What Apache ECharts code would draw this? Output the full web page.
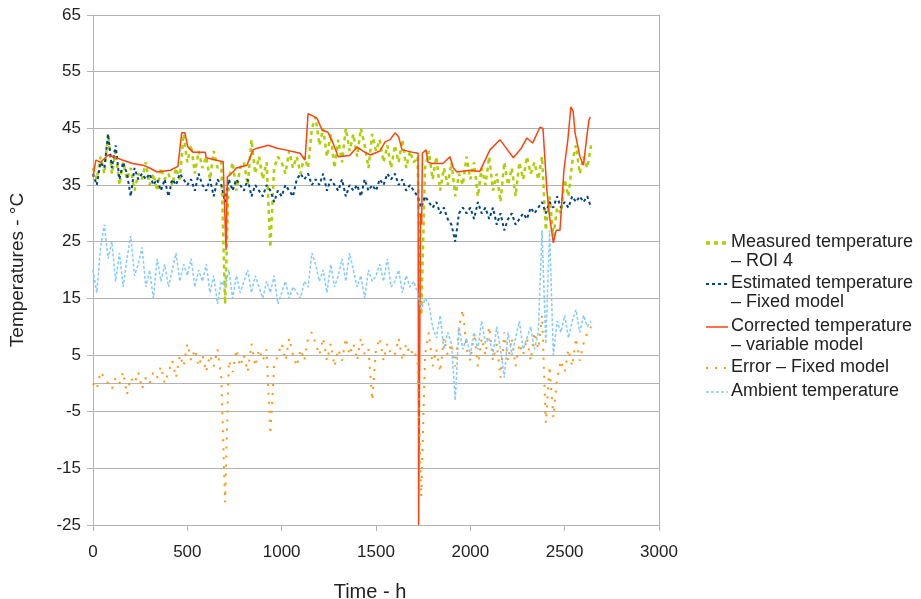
<!DOCTYPE html>
<html>
<head>
<meta charset="utf-8">
<script src="https://cdn.jsdelivr.net/npm/echarts@6/dist/echarts.min.js"></script>
<style>
  html, body { margin: 0; padding: 0; background: #ffffff; }
  #chart { width: 921px; height: 599px; }
</style>
</head>
<body>
<div id="chart"></div>
<script>
// Sampling instants (h) shared by the measured, estimated, error and ambient series
const hours = [];
for (let h = 0; h <= 2640; h += 20) hours.push(h);

// Measured temperature – ROI 4 (°C)
const measured = [
  38, 36, 40, 37, 44,   37, 41, 35, 39, 36,   38, 34, 37, 36, 39,   35, 37, 34, 38, 36,
  37, 35, 38, 36, 44,   39, 42, 37, 41, 38,   40, 36, 41, 38, 39,   14, 36, 39, 34, 38,
  39, 35, 43, 37, 40,   36, 39, 24, 38, 40,   39, 37, 41, 38, 40,   37, 40, 38, 45, 47,
  42, 45, 40, 44, 38,   43, 39, 45, 41, 44,   40, 45, 42, 38, 44,   41, 43, 39, 42, 38,
  42, 39, 43, 38, 41,   39, 40, 12, 38, 41,   36, 40, 34, 38, 35,   39, 33, 37, 35, 40,
  36, 39, 33, 38, 35,   40, 34, 37, 32, 39,   35, 38, 33, 39, 36,   40, 37, 39, 36, 40,
  27, 33, 26, 31, 30,   36, 33, 39, 42, 37,   40, 38, 42
];

// Estimated temperature – Fixed model (°C)
const estimated = [
  37, 35, 39, 38, 44,   38, 42, 36, 39, 37,   33, 38, 36, 37, 36,   37, 35, 36, 34, 36,
  33, 36, 35, 37, 36,   35, 36, 34, 37, 35,   34, 36, 33, 36, 35,   32, 36, 34, 36, 35,
  34, 36, 33, 35, 34,   33, 35, 34, 32, 34,   33, 35, 34, 33, 36,   37, 36, 37, 35, 36,
  35, 37, 34, 36, 35,   34, 36, 33, 35, 34,   35, 33, 36, 34, 35,   34, 36, 35, 37, 36,
  37, 35, 36, 34, 35,   34, 33, 31, 33, 32,   31, 32, 30, 31, 29,   28, 25, 30, 31, 30,
  31, 29, 32, 30, 31,   29, 31, 28, 30, 27,   29, 30, 28, 29, 30,   29, 31, 30, 31, 32,
  30, 32, 31, 33, 31,   32, 31, 33, 32, 33,   32, 33, 31
];

// Error – Fixed model (°C)
const errorFixed = [
   0, -1,  2,  1,  0,   -1,  1,  0,  2, -2,    1,  0,  2, -1,  1,    0,  2,  1,  3,  0,
   2,  4,  1,  5,  3,    7,  4,  6,  3,  5,    2,  5,  3,  6,  1,  -21,  4,  2,  6,  3,
   5,  2,  7,  3,  6,    4,  6, -9,  3,  5,    7,  4,  8,  5,  3,    6,  4,  8,  9,  7,
   5,  8,  4,  7,  3,    6,  4,  8,  5,  7,    4,  8,  5,  6, -3,    6,  8,  4,  7,  5,
   5,  8,  4,  7,  5,    6,  4, -20, 5,  9,    3,  6,  2,  8,  5,    7,  3, 10, 13,  6,
   4,  9,  3,  8,  5,   10,  4,  7,  1,  9,    4,  8,  3,  7,  5,    8,  4,  9,  6, 12,
  -7,  3, -6,  1,  4,    2,  6,  3,  8,  4,    7,  9, 10
];

// Ambient temperature (°C)
const ambient = [
  20, 16, 24, 28, 22,   25, 18, 23, 17, 22,   26, 19, 21, 24, 17,   20, 15, 22, 18, 21,
  17, 20, 23, 18, 21,   19, 22, 17, 20, 18,   21, 16, 19, 14, 18,   17, 20, 15, 19, 16,
  18, 20, 16, 19, 17,   15, 18, 16, 19, 14,   16, 18, 15, 17, 16,   15, 18, 17, 23, 21,
  18, 20, 16, 21, 17,   19, 22, 18, 23, 20,   17, 19, 15, 20, 18,   19, 21, 18, 22, 17,
  18, 20, 16, 19, 17,   18, 16, 13, 15, 14,   10,  8, 12,  6,  9,    7, -3, 10,  6,  8,
   5,  9,  6, 11,  7,    8,  5, 10,  6,  1,    9,  5,  8, 11,  6,    8, 10,  6,  9, 27,
   7, 27,  5, 11,  9,   12,  8, 11, 13,  9,   12, 10, 11
];

// Corrected temperature – variable model: own time base (h) and values (°C)
const corrHours = [
  0, 15, 40, 80, 110, 155, 210, 265, 300, 340, 410, 450, 470, 487, 503, 530, 595, 600,
  690, 700, 705, 712, 742, 760, 816, 848, 870, 930, 975, 1020, 1097, 1124, 1140, 1187,
  1214, 1245, 1272, 1300, 1360, 1400, 1440, 1470, 1521, 1548, 1575, 1601, 1620, 1638,
  1691, 1723, 1726, 1732, 1736, 1742, 1746, 1765, 1776, 1797, 1855, 1892, 1910, 1929,
  2000, 2050, 2104, 2157, 2190, 2228, 2270, 2300, 2330, 2369, 2385, 2406, 2420, 2440,
  2455, 2475, 2496, 2517, 2533, 2545, 2555, 2581, 2600, 2617, 2629, 2636
];
const corrected = [
  36.4, 39.4, 39.0, 40.3, 40.0, 39.4, 38.8, 38.5, 38.0, 37.3, 37.6, 38.3, 44.2, 44.2,
  41.7, 40.8, 40.8, 39.8, 39.1, 39.0, 23.5, 36.4, 37.3, 38.0, 38.5, 41.2, 41.5, 42.0,
  41.5, 41.2, 40.6, 39.4, 47.6, 46.8, 44.7, 44.3, 42.4, 40.0, 40.2, 41.7, 40.8, 40.3,
  41.0, 42.6, 43.0, 44.2, 43.5, 41.2, 40.8, 40.6, -25, -25, 30.0, 28.0, 40.6, 41.2,
  39.0, 38.8, 38.8, 40.0, 38.0, 37.3, 37.6, 37.4, 41.2, 43.0, 41.5, 39.8, 41.5, 43.3,
  42.4, 45.2, 45.0, 34.0, 29.4, 24.8, 27.0, 27.0, 37.6, 43.0, 48.8, 48.0, 44.2, 40.0,
  38.5, 43.5, 46.5, 47.0
];

// Axis ranges and ticks
const xMin = 0, xMax = 3000, xStep = 500;
const yMin = -25, yMax = 65, yStep = 10;

// Series appearance (LibreOffice default palette)
const seriesDefs = [
  { name: 'Measured temperature\n– ROI 4', color: '#aecf00', width: 2.5, dash: [4, 4],
    x: hours, y: measured },
  { name: 'Estimated temperature\n– Fixed model', color: '#004586', width: 2, dash: [3, 3],
    x: hours, y: estimated },
  { name: 'Corrected temperature\n– variable model', color: '#ff420e', width: 1.5, dash: 'solid',
    x: corrHours, y: corrected },
  { name: 'Error – Fixed model', color: '#ff950e', width: 2, dash: [2, 7],
    x: hours, y: errorFixed },
  { name: 'Ambient temperature', color: '#83caff', width: 1.5, dash: [3, 2],
    x: hours, y: ambient }
];

const gridColor = '#b3b3b3';
const textColor = '#222222';
const font = 'Liberation Sans, Arial, sans-serif';

const series = seriesDefs.map((d, k) => ({
  name: d.name,
  type: 'line',
  data: d.x.map((h, i) => [h, d.y[i]]),
  showSymbol: false,
  symbol: 'none',
  animation: false,
  z: 2 + k,
  lineStyle: { color: d.color, width: d.width, type: d.dash, cap: 'butt' },
  markLine: k === 0 ? {
    silent: true,
    symbol: 'none',
    label: { show: false },
    lineStyle: { color: gridColor, width: 1, type: 'solid' },
    data: [{ yAxis: 0 }]
  } : undefined
}));

// Legend block drawn at the right of the plot
const legendX = 706, legendTextX = 731;
const legendRows = [243, 284, 327, 368, 392];
const graphic = [];
seriesDefs.forEach((d, k) => {
  const y = legendRows[k];
  graphic.push({
    type: 'line',
    shape: { x1: legendX, y1: y, x2: legendX + 22, y2: y },
    style: {
      stroke: d.color,
      lineWidth: k === 0 ? 3.5 : d.width,
      lineDash: d.dash === 'solid' ? null : d.dash
    }
  });
  graphic.push({
    type: 'text',
    x: legendTextX,
    y: y - 10,
    style: {
      text: d.name,
      fill: textColor,
      font: '18px ' + font,
      lineHeight: 19,
      verticalAlign: 'top'
    }
  });
});

const chart = echarts.init(document.getElementById('chart'), null, { renderer: 'canvas' });
chart.setOption({
  backgroundColor: '#ffffff',
  animation: false,
  grid: { left: 93, right: 262, top: 15, bottom: 74, containLabel: false,
          outerBoundsMode: 'none' },
  xAxis: {
    type: 'value',
    min: xMin, max: xMax, interval: xStep,
    name: 'Time - h',
    nameLocation: 'middle',
    nameGap: 57,
    nameTextStyle: { color: textColor, fontSize: 20, fontFamily: font, padding: [0, 12, 0, 0] },
    axisLine: { show: true, onZero: false, lineStyle: { color: gridColor, width: 1 } },
    axisTick: { show: true, length: 6, lineStyle: { color: gridColor } },
    axisLabel: { color: textColor, fontSize: 17, fontFamily: font, margin: 19,
                 formatter: v => String(v) },
    splitLine: { show: false }
  },
  yAxis: [
    {
      type: 'value',
      min: yMin, max: yMax, interval: yStep,
      name: 'Temperatures - °C',
      nameLocation: 'middle',
      nameGap: 66,
      nameTextStyle: { color: textColor, fontSize: 19, fontFamily: font },
      axisLine: { show: true, onZero: false, lineStyle: { color: gridColor, width: 1 } },
      axisTick: { show: true, length: 6, lineStyle: { color: gridColor } },
      axisLabel: { color: textColor, fontSize: 17, fontFamily: font, margin: 12,
                   formatter: v => String(v) },
      splitLine: { show: true, lineStyle: { color: gridColor, width: 1 } }
    },
    {
      type: 'value',
      position: 'right',
      min: yMin, max: yMax, interval: yStep,
      axisLine: { show: true, onZero: false, lineStyle: { color: gridColor, width: 1 } },
      axisTick: { show: false },
      axisLabel: { show: false },
      splitLine: { show: false }
    }
  ],
  series: series,
  graphic: graphic
});
</script>
</body>
</html>
